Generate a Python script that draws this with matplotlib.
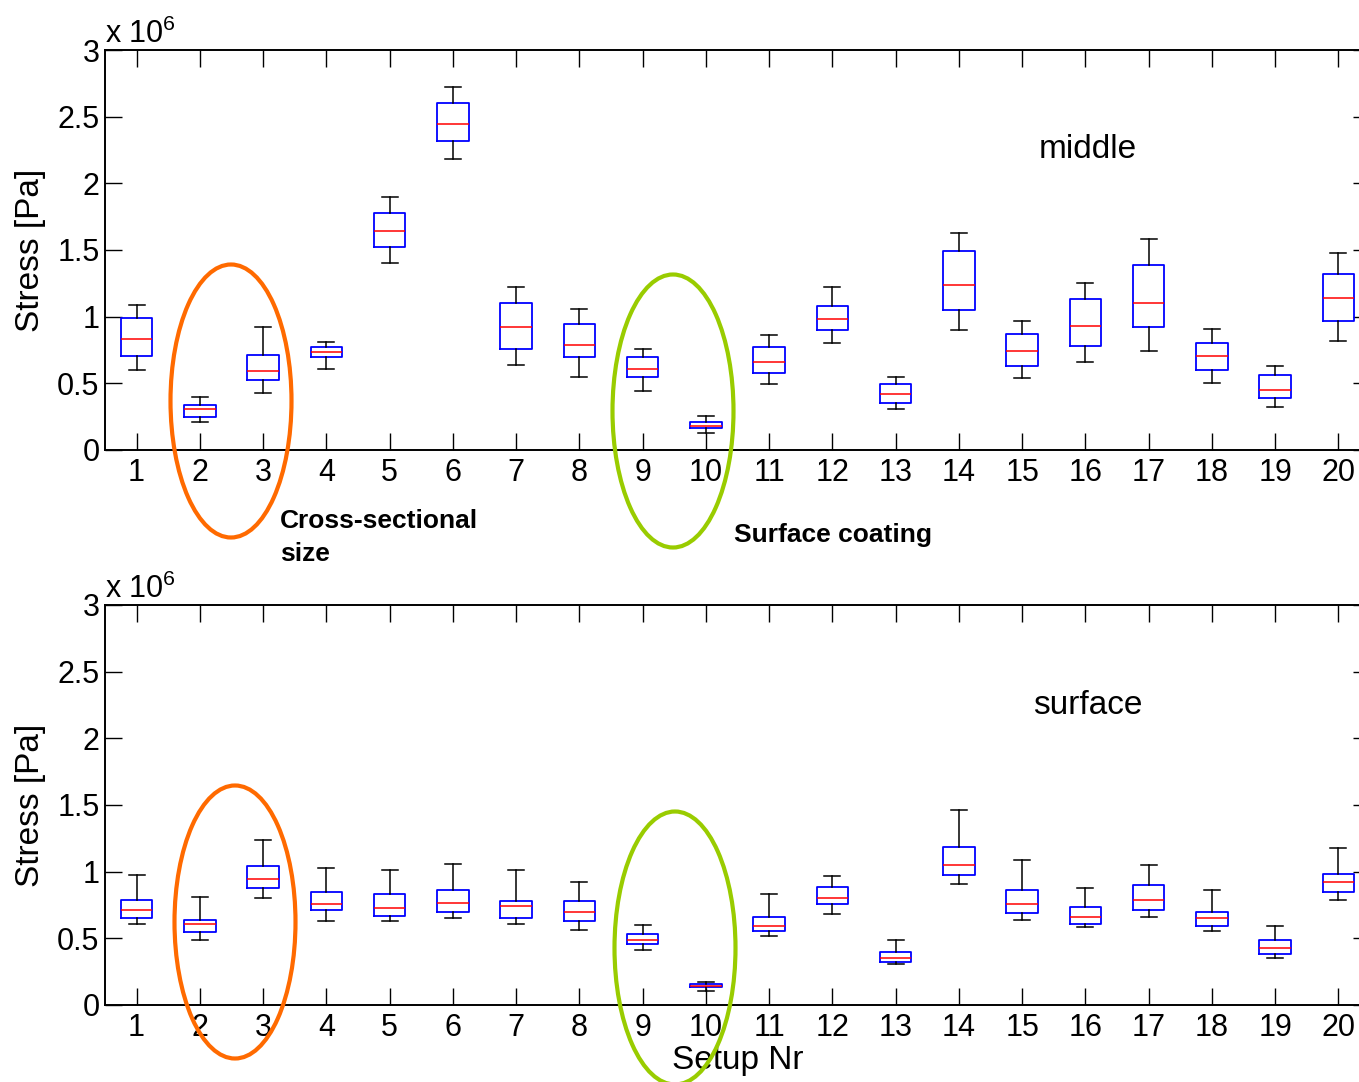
import matplotlib.pyplot as plt
from matplotlib.patches import Ellipse
from matplotlib.ticker import FuncFormatter, MultipleLocator

plt.rcParams['font.family'] = ['Liberation Sans', 'DejaVu Sans']
plt.rcParams['mathtext.fontset'] = 'custom'
plt.rcParams['mathtext.rm'] = 'Liberation Sans'

setups = list(range(1, 21))

# box statistics per setup, in units of 1e6 Pa
mid_wlo = [0.60, 0.21, 0.43, 0.61, 1.40, 2.18, 0.64, 0.545, 0.44, 0.13,
           0.495, 0.80, 0.305, 0.90, 0.54, 0.66, 0.745, 0.505, 0.325, 0.82]
mid_q1 = [0.705, 0.248, 0.525, 0.695, 1.52, 2.32, 0.76, 0.695, 0.545, 0.163,
          0.58, 0.90, 0.35, 1.05, 0.63, 0.78, 0.925, 0.60, 0.39, 0.97]
mid_med = [0.83, 0.305, 0.59, 0.735, 1.64, 2.445, 0.925, 0.79, 0.61, 0.18,
           0.66, 0.98, 0.42, 1.24, 0.745, 0.93, 1.10, 0.705, 0.45, 1.14]
mid_q3 = [0.99, 0.34, 0.715, 0.77, 1.78, 2.605, 1.10, 0.945, 0.695, 0.207,
          0.77, 1.08, 0.495, 1.49, 0.87, 1.135, 1.39, 0.80, 0.56, 1.32]
mid_whi = [1.09, 0.40, 0.925, 0.81, 1.90, 2.72, 1.225, 1.06, 0.76, 0.257,
           0.86, 1.225, 0.545, 1.63, 0.97, 1.25, 1.58, 0.905, 0.63, 1.48]

surf_wlo = [0.61, 0.49, 0.80, 0.63, 0.63, 0.65, 0.61, 0.565, 0.41, 0.105,
            0.52, 0.68, 0.305, 0.91, 0.64, 0.585, 0.66, 0.555, 0.355, 0.79]
surf_q1 = [0.65, 0.545, 0.88, 0.715, 0.67, 0.70, 0.65, 0.63, 0.46, 0.135,
           0.555, 0.755, 0.325, 0.975, 0.69, 0.61, 0.715, 0.595, 0.385, 0.845]
surf_med = [0.71, 0.61, 0.945, 0.755, 0.725, 0.765, 0.745, 0.70, 0.49, 0.145,
            0.595, 0.805, 0.355, 1.05, 0.755, 0.66, 0.785, 0.65, 0.43, 0.92]
surf_q3 = [0.79, 0.64, 1.04, 0.85, 0.83, 0.86, 0.78, 0.78, 0.535, 0.155,
           0.66, 0.885, 0.40, 1.185, 0.86, 0.735, 0.90, 0.70, 0.49, 0.985]
surf_whi = [0.975, 0.81, 1.24, 1.03, 1.015, 1.06, 1.01, 0.925, 0.60, 0.172,
            0.835, 0.965, 0.49, 1.465, 1.09, 0.88, 1.05, 0.86, 0.595, 1.175]


def make_stats(wlo, q1, med, q3, whi):
    stats = []
    for a, b, c, d, e in zip(wlo, q1, med, q3, whi):
        stats.append(dict(whislo=a * 1e6, q1=b * 1e6, med=c * 1e6,
                          q3=d * 1e6, whishi=e * 1e6, fliers=[]))
    return stats


def draw_panel(ax, stats, name):
    ax.bxp(stats, positions=setups, widths=0.5, showfliers=False,
           boxprops=dict(color='blue', linewidth=1.3),
           medianprops=dict(color='red', linewidth=1.1),
           whiskerprops=dict(color='black', linewidth=1.1),
           capprops=dict(color='black', linewidth=1.1),
           capwidths=0.25)
    ax.set_xlim(0.5, 20.5)
    ax.set_ylim(0, 3e6)
    ax.set_xticks(setups)
    ax.set_xticklabels([str(s) for s in setups])
    ax.yaxis.set_major_locator(MultipleLocator(0.5e6))
    ax.yaxis.set_major_formatter(FuncFormatter(lambda v, p: '%g' % (v / 1e6)))
    ax.tick_params(direction='in', top=True, right=True, length=12,
                   width=1, labelsize=22)
    ax.tick_params(axis='x', pad=6)
    ax.tick_params(axis='y', pad=4)
    for sp in ax.spines.values():
        sp.set_linewidth(1.4)
    ax.set_ylabel('Stress [Pa]', fontsize=24)
    ax.yaxis.set_label_coords(-0.047, 0.5)
    ax.text(0.0, 1.017, r'x 10$^{\mathregular{6}}$', transform=ax.transAxes,
            fontsize=22, ha='left', va='baseline')
    ax.text(0.777, 0.75, name, transform=ax.transAxes, fontsize=24,
            ha='center', va='center')


fig = plt.figure(figsize=(13.59, 10.82), dpi=100)
W, H = 1359.0, 1082.0
ax1 = fig.add_axes([105 / W, 1 - 450 / H, 1265 / W, 400 / H])
ax2 = fig.add_axes([105 / W, 1 - 1005 / H, 1265 / W, 400 / H])

draw_panel(ax1, make_stats(mid_wlo, mid_q1, mid_med, mid_q3, mid_whi), 'middle')
draw_panel(ax2, make_stats(surf_wlo, surf_q1, surf_med, surf_q3, surf_whi), 'surface')
ax2.set_xlabel('Setup Nr', fontsize=24, labelpad=1)

# highlight groups with ellipses drawn in figure pixels
orange = '#ff6a00'
green = '#99cc00'
rings = [(231, 401, orange), (673, 411, green), (235, 922, orange), (675, 948, green)]
for cx, cy, col in rings:
    e = Ellipse((cx, H - cy), 121, 273, fill=False, edgecolor=col,
                linewidth=3, transform=None, clip_on=False, zorder=5)
    fig.patches.append(e)

fig.text(280 / W, 1 - 509 / H, 'Cross-sectional\nsize', fontsize=19,
         fontweight='bold', ha='left', va='top', linespacing=1.45)
fig.text(734 / W, 1 - 535 / H, 'Surface coating', fontsize=19,
         fontweight='bold', ha='left', va='center')

fig.savefig('out.png', dpi=100)
